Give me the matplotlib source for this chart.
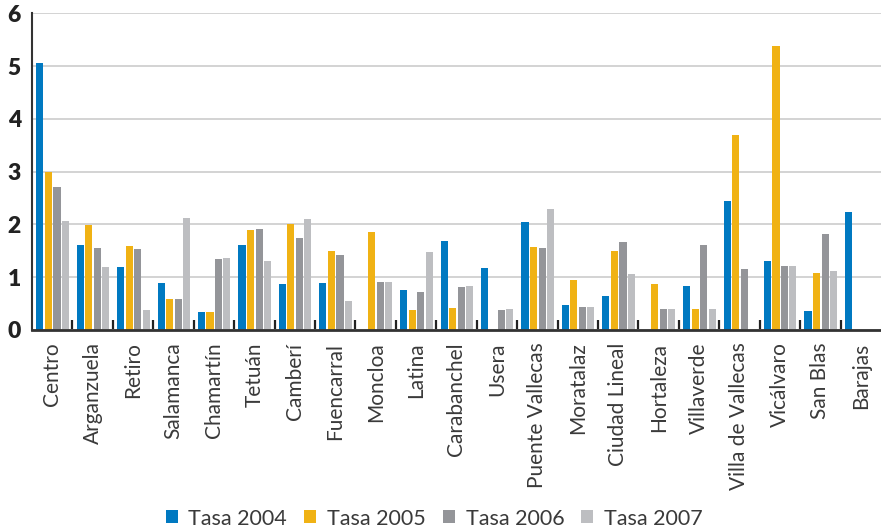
import matplotlib
matplotlib.use("Agg")
import matplotlib.pyplot as plt
from matplotlib import font_manager
from matplotlib.ticker import FixedLocator
import numpy as np

distritos = ["Centro", "Arganzuela", "Retiro", "Salamanca", "Chamartín", "Tetuán",
             "Camberí", "Fuencarral", "Moncloa", "Latina", "Carabanchel", "Usera",
             "Puente Vallecas", "Moratalaz", "Ciudad Lineal", "Hortaleza", "Villaverde",
             "Villa de Vallecas", "Vicálvaro", "San Blas", "Barajas"]

tasa_2004 = [5.06, 1.61, 1.19, 0.89, 0.34, 1.61, 0.87, 0.89, 0.00, 0.76, 1.69,
             1.17, 2.05, 0.47, 0.64, 0.00, 0.83, 2.44, 1.31, 0.36, 2.23]
tasa_2005 = [2.99, 1.98, 1.59, 0.59, 0.34, 1.89, 2.01, 1.50, 1.86, 0.38, 0.42,
             0.00, 1.57, 0.95, 1.50, 0.87, 0.40, 3.69, 5.38, 1.08, 0.00]
tasa_2006 = [2.71, 1.55, 1.53, 0.59, 1.34, 1.91, 1.74, 1.42, 0.91, 0.72, 0.81,
             0.38, 1.55, 0.44, 1.67, 0.40, 1.61, 1.16, 1.21, 1.82, 0.00]
tasa_2007 = [2.06, 1.19, 0.38, 2.12, 1.36, 1.31, 2.10, 0.55, 0.91, 1.48, 0.83,
             0.40, 2.29, 0.44, 1.06, 0.40, 0.40, 0.00, 1.21, 1.12, 0.00]

series = [("Tasa 2004", tasa_2004, "#0079c1"),
          ("Tasa 2005", tasa_2005, "#f0b214"),
          ("Tasa 2006", tasa_2006, "#949599"),
          ("Tasa 2007", tasa_2007, "#bdbec1")]

installed = {f.name for f in font_manager.fontManager.ttflist}
label_font = "Lato" if "Lato" in installed else "DejaVu Sans"

fig = plt.figure(figsize=(8.81, 5.32), dpi=100)
ax = fig.add_axes([32 / 881, 1 - 330 / 532, 1 - 32 / 881, (330 - 13.3) / 532])

x = np.arange(len(distritos))
offsets = [-0.305, -0.097, 0.118, 0.322]
width = 0.175
for (name, vals, color), off in zip(series, offsets):
    ax.bar(x + off, vals, width=width, color=color, label=name, zorder=3)

ax.set_xlim(-0.5, len(distritos) - 0.5)
ax.set_ylim(0, 6)
ax.set_yticks(range(0, 7))
ax.yaxis.grid(True, color="#d3d3d3", linewidth=1.4, zorder=0)
ax.set_axisbelow(True)

for side in ("top", "right"):
    ax.spines[side].set_visible(False)
ax.spines["left"].set_color("#333333")
ax.spines["left"].set_linewidth(1.5)
ax.spines["bottom"].set_color("#333333")
ax.spines["bottom"].set_linewidth(2.0)
ax.spines["bottom"].set_zorder(5)

ax.tick_params(axis="y", length=0, pad=8)
for lbl in ax.get_yticklabels():
    lbl.set_fontfamily(label_font)
    lbl.set_fontweight("heavy")
    lbl.set_fontsize(16.5)
    lbl.set_color("#222222")

ax.set_xticks(x)
ax.set_xticklabels(distritos, rotation=90, fontsize=15, family=label_font,
                   fontweight="normal", color="#3a3a3a")
ax.tick_params(axis="x", which="major", length=0, pad=9)
ax.xaxis.set_minor_locator(FixedLocator(np.arange(0.5, len(distritos) - 1, 1.0)))
ax.tick_params(axis="x", which="minor", direction="in", length=7, width=1.6,
               color="#222222")

fig.legend(loc="lower center", bbox_to_anchor=(0.493, -0.03), ncol=4, frameon=False,
           prop={"family": label_font, "size": 15.5, "weight": "normal"},
           handlelength=0.55, handleheight=0.55, handletextpad=0.5,
           columnspacing=0.8, labelcolor="#3a3a3a")

fig.savefig("out.png", dpi=100)
